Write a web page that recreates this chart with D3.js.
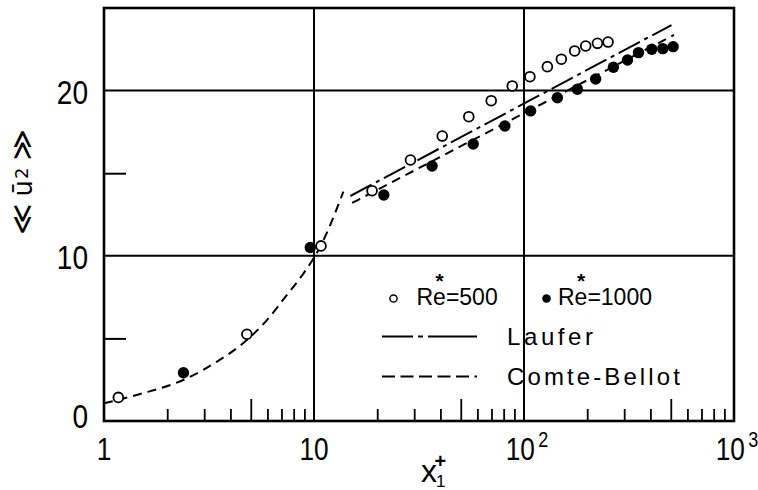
<!DOCTYPE html>
<html>
<head>
<meta charset="utf-8">
<script src="https://cdn.jsdelivr.net/npm/d3@7"></script>
<style>
  html, body { margin: 0; padding: 0; background: #fff; }
  svg { display: block; }
  .tick-label { font-family: "Liberation Sans", Arial, sans-serif; fill: #000; }
  .legend-text { font-family: "Liberation Sans", Arial, sans-serif; fill: #000; }
</style>
</head>
<body>
<svg id="chart" width="758" height="490"></svg>
<script>
// Re* = 500 (open circles)
const re500X = [1.17, 4.79, 10.8, 18.9, 28.8, 40.8, 54.6, 69.8, 87.9, 106.7, 129.2, 150.6, 174.3, 196.7, 223.7, 251.3];
const re500Y = [1.43, 5.25, 10.6, 13.94, 15.8, 17.25, 18.42, 19.39, 20.28, 20.84, 21.45, 21.9, 22.4, 22.7, 22.86, 22.94];

// Re* = 1000 (filled circles)
const re1000X = [2.39, 9.6, 21.5, 36.5, 57.3, 81.1, 107.5, 144.2, 179.6, 219.4, 266.6, 311, 350.9, 405.8, 458, 513];
const re1000Y = [2.92, 10.5, 13.68, 15.44, 16.77, 17.86, 18.77, 19.57, 20.08, 20.7, 21.41, 21.85, 22.3, 22.5, 22.54, 22.66];

// Laufer (log-law fit)
const lauferX = [14.9, 504];
const lauferY = [13.62, 23.97];

// Comte-Bellot: near-wall curve and log-law region
const cbWallX = [1.0, 1.485, 2.48, 3.45, 4.79, 5.97, 7.43, 8.92, 9.96, 10.7, 13.8];
const cbWallY = [1.07, 1.63, 2.58, 3.59, 4.9, 6.11, 7.63, 8.94, 9.85, 10.55, 13.88];
const cbLogX = [15.2, 518];
const cbLogY = [13.2, 23.37];

// Axis ticks
const xMajor = [1, 10, 100, 1000];
const xMajorBase = ["1", "10", "10", "10"];
const xMajorExp = ["", "", "2", "3"];
const yMajor = [0, 10, 20];
const yMinor = [5, 15];
const xGrid = [10, 100];
const yGrid = [10, 20];

const svg = d3.select("#chart");
const plotLeft = 104, plotRight = 734, plotTop = 8, plotBottom = 421;

const x = d3.scaleLog().domain([1, 1000]).range([plotLeft, plotRight]);
const y = d3.scaleLinear().domain([0, 25]).range([plotBottom, plotTop]);

const zip = (xs, ys) => xs.map((v, i) => [v, ys[i]]);
const line = d3.line().x(d => x(d[0])).y(d => y(d[1]));
const smooth = d3.line().x(d => x(d[0])).y(d => y(d[1])).curve(d3.curveMonotoneX);

// grid lines
svg.append("g").selectAll("line").data(xGrid).join("line")
  .attr("x1", d => x(d)).attr("x2", d => x(d))
  .attr("y1", plotTop).attr("y2", plotBottom)
  .attr("stroke", "#000").attr("stroke-width", 2);
svg.append("g").selectAll("line").data(yGrid).join("line")
  .attr("x1", plotLeft).attr("x2", plotRight)
  .attr("y1", d => y(d)).attr("y2", d => y(d))
  .attr("stroke", "#000").attr("stroke-width", 2);

// minor x ticks (inside, pointing up); the 5-ticks are longer
const minorX = [];
const midX = [];
[1, 10, 100].forEach(dec => {
  for (let k = 2; k <= 9; k++) {
    if (k === 5) midX.push(k * dec); else minorX.push(k * dec);
  }
});
svg.append("g").attr("transform", `translate(0,${plotBottom})`)
  .call(d3.axisBottom(x).tickValues(minorX).tickSize(-12).tickFormat(""))
  .call(g => g.select(".domain").remove())
  .call(g => g.selectAll("line").attr("stroke-width", 1.8));
svg.append("g").attr("transform", `translate(0,${plotBottom})`)
  .call(d3.axisBottom(x).tickValues(midX).tickSize(-22).tickFormat(""))
  .call(g => g.select(".domain").remove())
  .call(g => g.selectAll("line").attr("stroke-width", 1.8));

// minor y ticks (inside)
svg.append("g").attr("transform", `translate(${plotLeft},0)`)
  .call(d3.axisLeft(y).tickValues(yMinor).tickSize(-22).tickFormat(""))
  .call(g => g.select(".domain").remove())
  .call(g => g.selectAll("line").attr("stroke-width", 2));

// frame
svg.append("rect")
  .attr("x", plotLeft).attr("y", plotTop)
  .attr("width", plotRight - plotLeft).attr("height", plotBottom - plotTop)
  .attr("fill", "none").attr("stroke", "#000").attr("stroke-width", 2.6);

// x tick labels (condensed lettering)
const xl = svg.append("g");
xMajor.forEach((v, i) => {
  const shift = xMajorExp[i] ? 3 : 0;
  const g = xl.append("g")
    .attr("transform", `translate(${x(v) + shift},460) scale(0.82,1)`);
  const t = g.append("text").attr("class", "tick-label")
    .attr("x", 0).attr("y", 0)
    .attr("text-anchor", "middle")
    .attr("font-size", 32);
  t.append("tspan").text(xMajorBase[i]);
  if (xMajorExp[i]) {
    t.append("tspan").attr("font-size", 22).attr("dx", 4).attr("dy", -13).text(xMajorExp[i]);
  }
});

// y tick labels (condensed lettering)
svg.append("g").selectAll("g").data(yMajor).join("g")
  .attr("transform", d => `translate(88,${Math.min(y(d) + 13, 428)}) scale(0.85,1)`)
  .append("text")
  .attr("class", "tick-label")
  .attr("text-anchor", "end")
  .attr("font-size", 33)
  .text(d => d);

// x axis title: x with subscript 1 and superscript +
const xt = svg.append("text").attr("class", "legend-text")
  .attr("x", 421).attr("y", 482).attr("font-size", 32);
xt.append("tspan").text("x");
xt.append("tspan").attr("font-size", 17).attr("dx", -1).attr("dy", 5).text("1");
xt.append("tspan").attr("font-size", 20).attr("font-weight", "bold")
  .attr("dx", -11).attr("dy", -19).text("+");

// y axis title
const yt = svg.append("text")
  .attr("transform", "translate(32,182) rotate(-90)")
  .attr("text-anchor", "middle")
  .attr("font-family", "DejaVu Sans, sans-serif")
  .attr("font-size", 26)
  .attr("fill", "#000");
yt.append("tspan").attr("font-size", 30).text("≪");
yt.append("tspan").attr("dx", 7).text("ū");
yt.append("tspan").attr("font-size", 18).attr("dx", 1).attr("dy", -4).text("2");
yt.append("tspan").attr("font-size", 30).attr("dx", 7).attr("dy", 4).text("≫");

// curves
svg.append("path").datum(zip(cbWallX, cbWallY))
  .attr("d", smooth).attr("fill", "none").attr("stroke", "#000")
  .attr("stroke-width", 2).attr("stroke-dasharray", "9,6");
svg.append("path").datum(zip(cbLogX, cbLogY))
  .attr("d", line).attr("fill", "none").attr("stroke", "#000")
  .attr("stroke-width", 2).attr("stroke-dasharray", "9,6");
svg.append("path").datum(zip(lauferX, lauferY))
  .attr("d", line).attr("fill", "none").attr("stroke", "#000")
  .attr("stroke-width", 2).attr("stroke-dasharray", "24,5,4,5");

// markers
svg.append("g").selectAll("circle").data(zip(re500X, re500Y)).join("circle")
  .attr("cx", d => x(d[0])).attr("cy", d => y(d[1])).attr("r", 4.9)
  .attr("fill", "#fff").attr("stroke", "#000").attr("stroke-width", 1.8);
svg.append("g").selectAll("circle").data(zip(re1000X, re1000Y)).join("circle")
  .attr("cx", d => x(d[0])).attr("cy", d => y(d[1])).attr("r", 5.7)
  .attr("fill", "#000");

// legend
const lg = svg.append("g");
lg.append("circle").attr("cx", 393.5).attr("cy", 298.5).attr("r", 3.6)
  .attr("fill", "#fff").attr("stroke", "#000").attr("stroke-width", 1.5);
lg.append("circle").attr("cx", 546.5).attr("cy", 298.5).attr("r", 4.3).attr("fill", "#000");

// "Re*=value" with the star set over the e
function reLabel(x0, value) {
  const t = lg.append("text").attr("class", "legend-text")
    .attr("x", x0).attr("y", 305).attr("font-size", 23);
  t.append("tspan").text("R");
  t.append("tspan").attr("font-size", 21).attr("font-weight", "bold")
    .attr("dx", 2.3).attr("dy", -17).text("*");
  t.append("tspan").attr("dx", -10.5).attr("dy", 17).text("e=" + value);
}
reLabel(416.5, "500");
reLabel(558, "1000");

lg.append("line").attr("x1", 382).attr("x2", 477).attr("y1", 336.5).attr("y2", 336.5)
  .attr("stroke", "#000").attr("stroke-width", 1.8).attr("stroke-dasharray", "31,5,5,5,60");
lg.append("text").attr("class", "legend-text")
  .attr("x", 507).attr("y", 345).attr("font-size", 24)
  .attr("letter-spacing", 3.6).text("Laufer");

lg.append("line").attr("x1", 382).attr("x2", 477).attr("y1", 376.5).attr("y2", 376.5)
  .attr("stroke", "#000").attr("stroke-width", 1.8).attr("stroke-dasharray", "13,5.5");
lg.append("text").attr("class", "legend-text")
  .attr("x", 507).attr("y", 385).attr("font-size", 24)
  .attr("letter-spacing", 3.1).text("Comte-Bellot");
</script>
</body>
</html>
